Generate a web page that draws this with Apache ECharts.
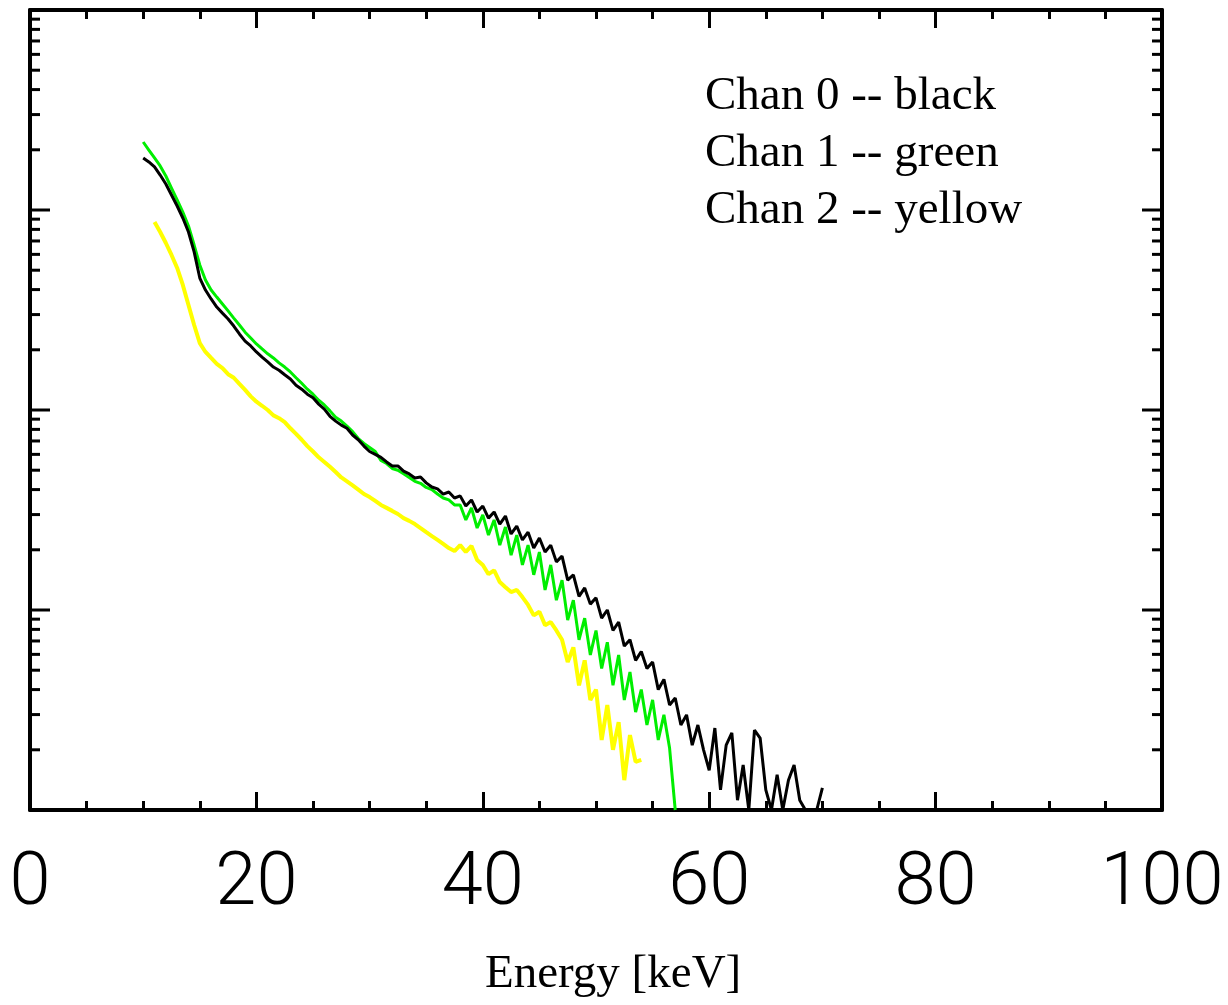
<!DOCTYPE html>
<html>
<head>
<meta charset="utf-8">
<script src="https://cdn.jsdelivr.net/npm/echarts@6/dist/echarts.min.js"></script>
<style>
html,body{margin:0;padding:0;background:#fff;}
#chart{width:1228px;height:1005px;}
</style>
</head>
<body>
<div id="chart"></div>
<script>
// Energy bins [keV]
const energy = [10,10.5,11,11.5,12,12.5,13,13.5,14,14.5,15,15.5,16,16.5,17,17.5,18,18.5,19,19.5,
20,20.5,21,21.5,22,22.5,23,23.5,24,24.5,25,25.5,26,26.5,27,27.5,28,28.5,29,29.5,
30,30.5,31,31.5,32,32.5,33,33.5,34,34.5,35,35.5,36,36.5,37,37.5,38,38.5,39,39.5,
40,40.5,41,41.5,42,42.5,43,43.5,44,44.5,45,45.5,46,46.5,47,47.5,48,48.5,49,49.5,
50,50.5,51,51.5,52,52.5,53,53.5,54,54.5,55,55.5,56,56.5,57,57.5,58,58.5,59,59.5,
60,60.5,61,61.5,62,62.5,63,63.5,64,64.5,65,65.5,66,66.5,67,67.5,68,68.5,69,69.5,70];

// Chan 0 (black)
const chan0 = [1820,1738,1641,1496,1349,1189,1047,912,776,617,457,398,359,327,305,285,263,240,221,209,
195,184,174,164,158,150,143,133,127,120,115,107,101,93,88,84,81,75,71,66,
62,60,58,55,52.5,52.5,49.5,47.9,45.7,46.2,43.2,41.2,40.3,38.0,38.9,36.3,37.2,33.1,35.5,30.9,
33.1,28.8,30.9,26.9,29.5,24.0,26.3,22.4,24.5,20.4,22.9,19.5,21.1,17.4,18.6,14.1,15.0,11.7,12.9,10.7,
11.5,9.1,10.0,7.9,8.7,6.6,7.1,5.6,6.2,5.1,5.5,4.0,4.5,3.35,3.63,2.66,2.99,2.11,2.66,2.0,
1.58,2.57,1.26,2.11,2.43,1.12,1.68,1,2.51,2.29,1.26,1,1.50,1,1.41,1.68,1.12,1,1,1,1.29];

// Chan 1 (green)
const chan1 = [2188,1995,1820,1660,1479,1288,1122,977,832,668,531,447,398,367,339,313,288,266,245,229,
214,202,191,182,172,164,155,145,136,127,120,112,106,99,92,88,83,78,72,68,
65,62,56,54,51,50,48,46,44,43,41,40,38,36.3,35.5,33.5,33.5,28.2,32.4,25.7,
29.9,23.7,28.2,21.1,26.0,18.8,23.7,16.8,21.1,15.0,19.5,12.6,16.8,11.2,14.1,8.9,11.2,7.1,9.1,5.96,
7.9,5.1,6.9,4.2,5.96,3.55,4.9,3.09,4.0,2.66,3.55,2.24,2.99,2.04,1];

// Chan 2 (yellow)
const chan2 = [null,null,871,776,684,596,513,422,335,266,216,195,182,170,162,151,145,135,126,117,
110,105,100,94,91,87,81,76,71,66,62,58,55,52,49,46,44,42,40,38,
36.7,35.1,33.5,32.4,31.3,30.2,28.8,27.9,26.9,25.7,24.5,23.4,22.4,21.4,20.4,19.7,21.1,19.5,20.9,17.8,
16.8,15.1,15.8,13.8,13.0,12.3,12.6,11.6,10.6,9.4,9.8,8.4,8.7,7.9,7.1,5.5,6.5,4.2,5.6,3.55,
4.0,2.24,3.35,2.0,2.75,1.41,2.37,1.74,1.78];

// Axis ticks
const xTickLabels = [0,20,40,60,80,100];
const yDecades = [1,10,100,1000];
const yMinorMult = [2,3,4,5,6,7,8,9];
const legendLines = ['Chan 0 -- black','Chan 1 -- green','Chan 2 -- yellow'];

const yTicks = [];
yDecades.forEach(d => {
  yTicks.push([0, d, 1]);
  yMinorMult.forEach(m => yTicks.push([0, d*m, 0]));
});
yTicks.push([0, 10000, 1]);

function pairs(vals){ return vals.map((v,i)=>[energy[i], v]); }

const chart = echarts.init(document.getElementById('chart'), null, {renderer:'canvas'});
const axisLine = {show:true, onZero:false, lineStyle:{color:'#000', width:4}};
const xCommon = {
  type:'value', min:0, max:100, interval:20,
  axisLine: axisLine,
  axisTick:{show:true, inside:true, length:18, lineStyle:{color:'#000', width:3}},
  minorTick:{show:true, splitNumber:4, length:9, lineStyle:{color:'#000', width:3}},
  splitLine:{show:false}, minorSplitLine:{show:false}
};
const yCommon = {
  type:'log', logBase:10, min:1, max:10000,
  axisLine: axisLine, axisTick:{show:false}, axisLabel:{show:false},
  splitLine:{show:false}
};
const serif = '"Liberation Serif", "Times New Roman", serif';

chart.setOption({
  backgroundColor:'#fff',
  animation:false,
  grid:{left:30, right:66, top:10, bottom:195, containLabel:false},
  xAxis:[
    Object.assign({}, xCommon, {position:'bottom',
      axisLabel:{show:true, margin:38, color:'#000', fontSize:74, fontWeight:300, fontFamily:'Roboto, "Liberation Sans", Arial, sans-serif',
        formatter: v => xTickLabels.indexOf(v) >= 0 ? String(v) : ''}}),
    Object.assign({}, xCommon, {position:'top', axisLabel:{show:false}})
  ],
  yAxis:[
    Object.assign({}, yCommon, {position:'left'}),
    Object.assign({}, yCommon, {position:'right'})
  ],
  series:[
    {type:'custom', xAxisIndex:0, yAxisIndex:0, silent:true, clip:false,
      data: yTicks, encode:{x:0, y:1},
      renderItem:(params, api) => {
        const v = api.value(1);
        const major = api.value(2) === 1;
        const len = major ? 20 : 10;
        const pL = api.coord([0, v]);
        const pR = api.coord([100, v]);
        const st = {stroke:'#000', lineWidth:3};
        return {type:'group', children:[
          {type:'line', shape:{x1:pL[0], y1:pL[1], x2:pL[0]+len, y2:pL[1]}, style:st},
          {type:'line', shape:{x1:pR[0]-len, y1:pR[1], x2:pR[0], y2:pR[1]}, style:st}
        ]};
      }
    },
    {name:'Chan 2', type:'line', data:pairs(chan2), showSymbol:false, symbol:'none',
      lineStyle:{color:'#ffff00', width:4}, connectNulls:false},
    {name:'Chan 1', type:'line', data:pairs(chan1), showSymbol:false, symbol:'none',
      lineStyle:{color:'#00ee00', width:3}},
    {name:'Chan 0', type:'line', data:pairs(chan0), showSymbol:false, symbol:'none',
      lineStyle:{color:'#000000', width:3}}
  ],
  graphic:[
    {type:'text', left:705, top:73, style:{text:legendLines[0], font:'47px ' + serif, fill:'#000'}},
    {type:'text', left:705, top:130, style:{text:legendLines[1], font:'47px ' + serif, fill:'#000'}},
    {type:'text', left:705, top:187, style:{text:legendLines[2], font:'47px ' + serif, fill:'#000'}},
    {type:'text', left:485, top:951, style:{text:'Energy [keV]', font:'47px ' + serif, fill:'#000'}}
  ]
});
</script>
</body>
</html>
